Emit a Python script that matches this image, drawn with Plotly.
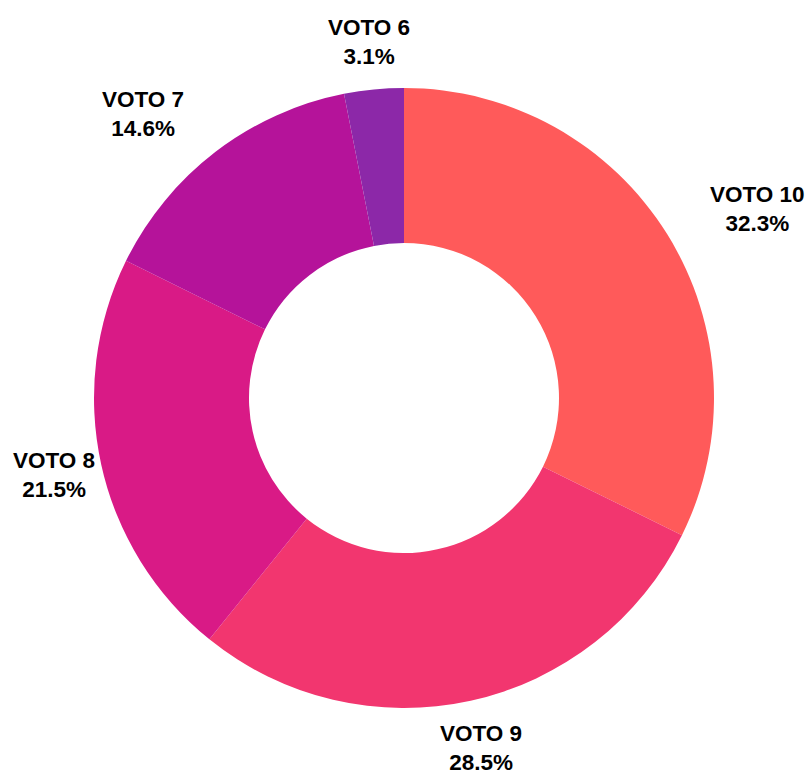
import math
import plotly.graph_objects as go

labels = ["VOTO 10", "VOTO 9", "VOTO 8", "VOTO 7", "VOTO 6"]
values = [32.3, 28.5, 21.5, 14.6, 3.1]
colors = ["#FF5A5A", "#F2366F", "#D91A86", "#B5139A", "#8C28A8"]

fig = go.Figure(go.Pie(
    labels=labels,
    values=values,
    hole=0.5,
    sort=False,
    direction="clockwise",
    rotation=0,
    marker=dict(colors=colors, line=dict(width=0)),
    textinfo="none",
    showlegend=False,
    hoverinfo="label+percent",
))

# Outside labels placed along each slice's mid-angle
total = sum(values)
label_radius = 1.155  # relative to outer pie radius
cum = 0.0
annotations = []
for lab, v in zip(labels, values):
    mid = (cum + v / 2) / total * 2 * math.pi
    cum += v
    s, c = math.sin(mid), math.cos(mid)
    x = 0.5 + 0.5 * label_radius * s
    y = 0.5 + 0.5 * label_radius * c
    if 0.3 < abs(s) < 0.9:
        xanchor = "left" if s > 0 else "right"
    else:
        xanchor = "center"
    annotations.append(dict(
        x=x, y=y, xref="paper", yref="paper",
        text=f"<b>{lab}</b><br><b>{v / total * 100:.1f}%</b>",
        showarrow=False, xanchor=xanchor, yanchor="middle", align="center",
        font=dict(family="Liberation Sans, Arial, sans-serif", size=22.5, color="#000000"),
    ))

fig.update_layout(
    width=810,
    height=775,
    margin=dict(l=94, r=96, t=88, b=67),
    paper_bgcolor="white",
    plot_bgcolor="white",
    annotations=annotations,
)

fig.write_html("out.html")
